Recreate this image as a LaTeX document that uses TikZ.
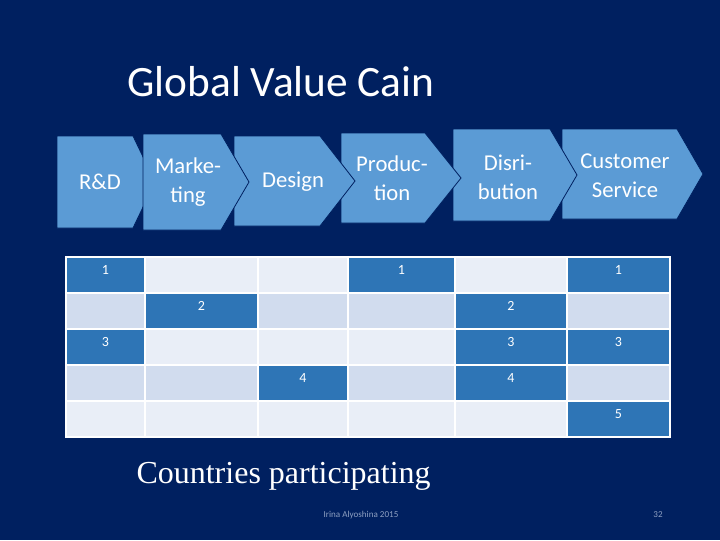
\documentclass[tikz,border=0pt]{standalone}
\usepackage{fontspec}
\setmainfont{Carlito}
\newfontfamily\timesfont{Liberation Serif}
\usepackage{tikz}
\definecolor{slidenavy}{HTML}{002060}
\definecolor{chevblue}{HTML}{5B9BD5}
\definecolor{celldark}{HTML}{2E75B6}
\definecolor{bandA}{HTML}{E9EEF7}
\definecolor{bandB}{HTML}{D1DCEE}
\definecolor{footgray}{HTML}{8EA0C2}
\tikzset{every picture/.style={line width=0.75pt}}
\tikzset{
  chev/.style={fill=chevblue, draw=slidenavy, line width=0.6pt},
  chevtext/.style={text=white, align=center, inner sep=0.75pt, font=\fontsize{17}{22}\selectfont},
  darkcell/.style={fill=celldark},
  numtext/.style={text=white, inner sep=0.75pt, font=\fontsize{10.5}{12}\selectfont},
  gridline/.style={draw=white, line width=1pt}
}

\begin{document}
\begin{tikzpicture}[x=0.75pt,y=0.75pt,yscale=-1,xscale=1]
%Shape: Slide background
\fill[slidenavy] (0,0) rectangle (720,540);

% Text Node
\draw (126,96) node [anchor=base west][inner sep=0.75pt][text=white,font=\fontsize{32.5}{38}\selectfont] (title) {Global Value Cain};

%Shape: Chevron Customer Service
\draw [chev] (562,129) -- (677,129) -- (703,174) -- (677,219) -- (562,219) -- cycle ;
%Shape: Chevron Distribution
\draw [chev] (453,129) -- (550,129) -- (577,175) -- (550,221) -- (453,221) -- cycle ;
%Shape: Chevron Production
\draw [chev] (341,133) -- (425,133) -- (461,178) -- (425,223) -- (341,223) -- cycle ;
%Shape: Chevron Design
\draw [chev] (234,136) -- (320,136) -- (355,181) -- (320,226) -- (234,226) -- cycle ;
%Shape: Chevron R&D
\draw [chev] (57,136) -- (133,136) -- (155,182) -- (133,228) -- (57,228) -- cycle ;
%Shape: Chevron Marketing
\draw [chev] (143,134) -- (221,134) -- (249,182) -- (221,230) -- (143,230) -- cycle ;

% Text Node
\draw (100,182) node [chevtext] (rd) {R\&D};
% Text Node
\draw (188,182) node [chevtext] (mkt) {Marke-\\ting};
% Text Node
\draw (293,182) node [chevtext] (dsg) {Design};
% Text Node
\draw (392,178) node [chevtext] (prod) {Produc-\\tion};
% Text Node
\draw (508,177) node [chevtext] (dist) {Disri-\\bution};
% Text Node
\draw (625,176) node [chevtext] (cust) {Customer\\Service};

%Shape: Table bands
\fill [bandA] (66,257) rectangle (670,293) ;
\fill [bandB] (66,293) rectangle (670,329) ;
\fill [bandA] (66,329) rectangle (670,365) ;
\fill [bandB] (66,365) rectangle (670,401) ;
\fill [bandA] (66,401) rectangle (670,437) ;

%Shape: Dark cells
\fill [darkcell] (66,257) rectangle (145,293) ;
\fill [darkcell] (348,257) rectangle (455,293) ;
\fill [darkcell] (567,257) rectangle (670,293) ;
\fill [darkcell] (145,293) rectangle (258,329) ;
\fill [darkcell] (455,293) rectangle (567,329) ;
\fill [darkcell] (66,329) rectangle (145,365) ;
\fill [darkcell] (455,329) rectangle (567,365) ;
\fill [darkcell] (567,329) rectangle (670,365) ;
\fill [darkcell] (258,365) rectangle (348,401) ;
\fill [darkcell] (455,365) rectangle (567,401) ;
\fill [darkcell] (567,401) rectangle (670,437) ;

%Straight Lines: table grid
\draw [gridline] (66,257) rectangle (670,437) ;
\draw [gridline] (66,293) -- (670,293) ;
\draw [gridline] (66,329) -- (670,329) ;
\draw [gridline] (66,365) -- (670,365) ;
\draw [gridline] (66,401) -- (670,401) ;
\draw [gridline] (145,257) -- (145,437) ;
\draw [gridline] (258,257) -- (258,437) ;
\draw [gridline] (348,257) -- (348,437) ;
\draw [gridline] (455,257) -- (455,437) ;
\draw [gridline] (567,257) -- (567,437) ;

% Text Node
\draw (105.5,270) node [numtext] (n11) {1};
% Text Node
\draw (401.5,270) node [numtext] (n14) {1};
% Text Node
\draw (618.5,270) node [numtext] (n16) {1};
% Text Node
\draw (201.5,306) node [numtext] (n22) {2};
% Text Node
\draw (511,306) node [numtext] (n25) {2};
% Text Node
\draw (105.5,342) node [numtext] (n31) {3};
% Text Node
\draw (511,342) node [numtext] (n35) {3};
% Text Node
\draw (618.5,342) node [numtext] (n36) {3};
% Text Node
\draw (303,378) node [numtext] (n43) {4};
% Text Node
\draw (511,378) node [numtext] (n45) {4};
% Text Node
\draw (618.5,414) node [numtext] (n56) {5};

% Text Node
\draw (135,483) node [anchor=base west][inner sep=0.75pt][text=white,font=\timesfont\fontsize{24}{28}\selectfont] (ctry) {Countries participating};
% Text Node
\draw (361,515) node [inner sep=0.75pt][text=footgray,font=\fontsize{6.8}{8}\selectfont] (foot) {Irina Alyoshina 2015};
% Text Node
\draw (658,515) node [inner sep=0.75pt][text=footgray,font=\fontsize{6.8}{8}\selectfont] (page) {32};

\end{tikzpicture}
\end{document}
